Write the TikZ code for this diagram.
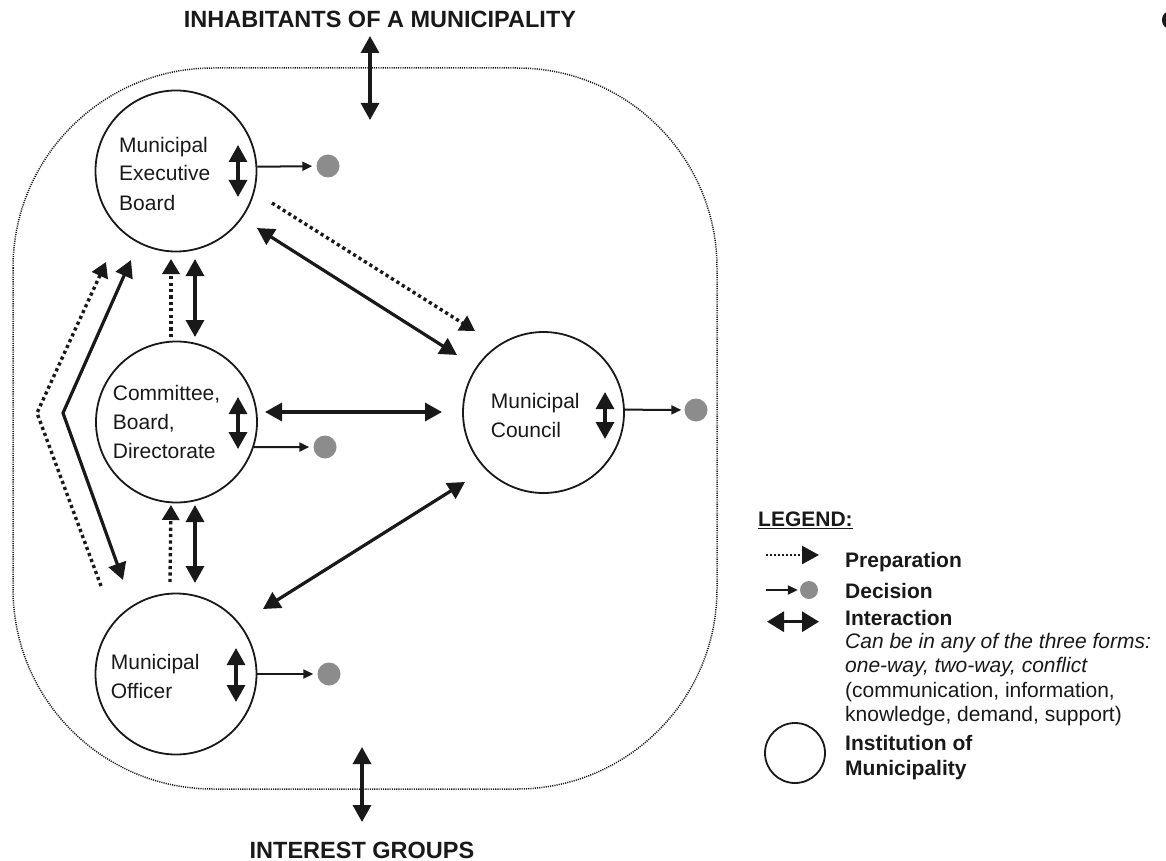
\documentclass[tikz,border=0pt]{standalone}
\usepackage{fontspec}
\setmainfont{Liberation Sans}
\usetikzlibrary{arrows.meta}
\definecolor{decgray}{RGB}{140,140,140}
\definecolor{ink}{RGB}{25,25,25}
\begin{document}
\begin{tikzpicture}[x=1pt,y=-1pt,
  inst/.style={circle,draw=ink,line width=1.8pt,minimum size=161pt,inner sep=0pt},
  lbl/.style={anchor=base west,inner sep=0pt,align=left,text=ink,font=\fontsize{21}{29}\selectfont},
  headtxt/.style={anchor=base,inner sep=0pt,text=ink,font=\fontsize{23.5}{28}\selectfont\bfseries},
  lgbold/.style={anchor=base west,inner sep=0pt,align=left,text=ink,font=\fontsize{21}{25}\selectfont\bfseries},
  lgtext/.style={anchor=base west,inner sep=0pt,align=left,text=ink,font=\fontsize{21}{24.5}\selectfont},
  inter/.style={draw=ink,line width=3.2pt,{Triangle[length=17pt,width=18pt]}-{Triangle[length=17pt,width=18pt]}},
  prep/.style={draw=ink,line width=3.4pt,dash pattern=on 3.2pt off 3.2pt,-{Triangle[length=15pt,width=17pt]}},
  decis/.style={draw=ink,line width=2pt,-{Triangle[length=10pt,width=9pt]}},
  decdot/.style={circle,fill=decgray,inner sep=0pt,minimum size=23pt},
  outerline/.style={draw=ink,line width=1.5pt,dash pattern=on 1.1pt off 1.1pt,rounded corners=200pt}
]
\useasboundingbox (0,0) rectangle (1166,861);

% outer dotted boundary
\draw[outerline] (13,68) rectangle (717,789);

% titles
\node[headtxt] (inhab) at (380,28) {INHABITANTS OF A MUNICIPALITY};
\node[headtxt] (groups) at (362,858) {INTEREST GROUPS};
\coordinate (topA) at (370,36);
\coordinate (topB) at (370,120);
\coordinate (botA) at (362,747);
\coordinate (botB) at (362,822);
\draw[inter] (topA) -- (topB);
\draw[inter] (botA) -- (botB);

% institutions
\node[inst] (exec) at (176,171) {};
\node[inst] (comm) at (176.5,422) {};
\node[inst] (off)  at (176,674) {};
\node[inst] (coun) at (543.5,412.5) {};

% (base anchor of a multi-line node = baseline of its last line)
\node[lbl] (exec-t) at (119,210) {Municipal\\Executive\\Board};
\node[lbl] (comm-t) at (112.7,458.3) {Committee,\\Board,\\Directorate};
\node[lbl] (off-t)  at (110.7,698.3) {Municipal\\Officer};
\node[lbl] (coun-t) at (490.7,437.7) {Municipal\\Council};

% inner interaction arrows
\coordinate (ei1) at (238,145); \coordinate (ei2) at (238,197);
\coordinate (ci1) at (238,397); \coordinate (ci2) at (238,449);
\coordinate (oi1) at (236,648); \coordinate (oi2) at (236,702);
\coordinate (ki1) at (605,392); \coordinate (ki2) at (605,439);
\draw[inter] (ei1) -- (ei2);
\draw[inter] (ci1) -- (ci2);
\draw[inter] (oi1) -- (oi2);
\draw[inter] (ki1) -- (ki2);

% decisions
\node[decdot] (d1) at (328,166) {};
\node[decdot] (d2) at (325,447) {};
\node[decdot] (d3) at (329,674) {};
\node[decdot] (d4) at (696,410) {};
\draw[decis,shorten >=4pt] (exec.3.6) -- (d1);
\draw[decis,shorten >=4pt] (comm.-18) -- (d2);
\draw[decis,shorten >=4pt] (off.0) -- (d3);
\draw[decis,shorten >=3pt] (coun.2) -- (d4);

% interactions between institutions
\coordinate (ec1) at (257,228); \coordinate (ec2) at (457,355);
\coordinate (cc1) at (265,412); \coordinate (cc2) at (442,412);
\coordinate (oc1) at (263,609); \coordinate (oc2) at (465,482);
\draw[inter] (ec1) -- (ec2);
\draw[inter] (cc1) -- (cc2);
\draw[inter] (oc1) -- (oc2);

\coordinate (v1a) at (195,259); \coordinate (v1b) at (195,337);
\coordinate (v2a) at (195,505); \coordinate (v2b) at (195,583);
\draw[inter] (v1a) -- (v1b);
\draw[inter] (v2a) -- (v2b);

\coordinate (zs1) at (131,260); \coordinate (zs2) at (63,413); \coordinate (zs3) at (123,580);
\draw[inter,line join=miter] (zs1) -- (zs2) -- (zs3);

% preparation
\coordinate (ep1) at (272,203); \coordinate (ep2) at (475,331);
\draw[prep] (ep1) -- (ep2);
\coordinate (p1a) at (171,337); \coordinate (p1b) at (171,259);
\coordinate (p2a) at (170,582); \coordinate (p2b) at (171,505);
\draw[prep] (p1a) -- (p1b);
\draw[prep] (p2a) -- (p2b);
\coordinate (zp1) at (101,586); \coordinate (zp2) at (37,413); \coordinate (zp3) at (106,262);
\draw[prep,line join=miter] (zp1) -- (zp2) -- (zp3);

% stray mark top right
\fill[ink] (1168,20) ellipse [x radius=6, y radius=8];

% legend
\node[lgbold] (lg) at (758,526.7) {\underline{LEGEND:}};
\coordinate (lp1) at (766,555); \coordinate (lp2) at (819,555);
\draw[draw=ink,line width=2.4pt,dash pattern=on 2pt off 2pt,-{Triangle[length=17pt,width=18pt]}] (lp1) -- (lp2);
\node[lgbold] (lg-prep) at (845,567) {Preparation};
\coordinate (ld1) at (766,590);
\node[circle,fill=decgray,inner sep=0pt,minimum size=18pt] (ldot) at (809,590) {};
\draw[decis,shorten >=2pt] (ld1) -- (ldot);
\node[lgbold] (lg-dec) at (845,598) {Decision};
\coordinate (li1) at (767,621.7); \coordinate (li2) at (819,621.7);
\draw[draw=ink,line width=3.2pt,{Triangle[length=17pt,width=20pt]}-{Triangle[length=17pt,width=20pt]}] (li1) -- (li2);
\node[lgbold] (lg-int) at (845,625) {Interaction};
\node[lgtext] (lg-note) at (845,721.7) {\textit{Can be in any of the three forms:}\\\textit{one-way, two-way, conflict}\\(communication, information,\\knowledge, demand, support)};
\node[circle,draw=ink,line width=1.8pt,minimum size=60pt,inner sep=0pt] (lcirc) at (795,753) {};
\node[lgbold] (lg-inst) at (845,775) {Institution of\\Municipality};
\end{tikzpicture}
\end{document}
